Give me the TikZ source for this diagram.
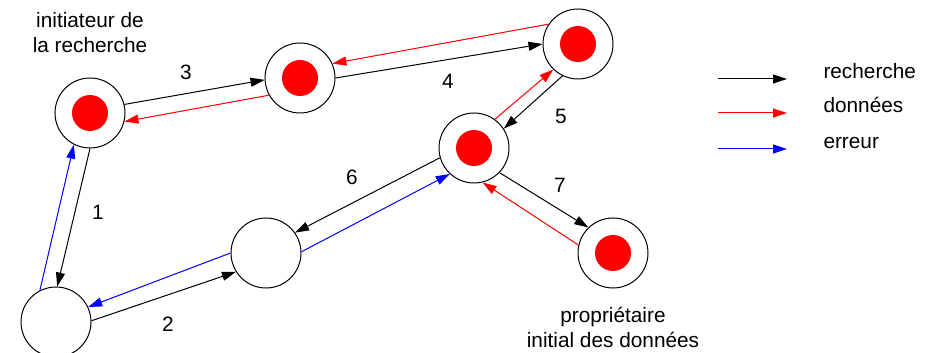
\documentclass[tikz,border=0pt]{standalone}
\usepackage{fontspec}
\setmainfont{Liberation Sans}
\usetikzlibrary{positioning,arrows.meta}

\begin{document}
\begin{tikzpicture}[x=0.5pt, y=-0.5pt, line width=0.5pt, >={Triangle[length=7pt,width=4.5pt]},
        font=\fontsize{10.4}{12.4}\selectfont,
        peer/.style={draw, circle, minimum size=35pt, inner sep=0pt},
        holder/.style={peer, path picture={\fill[red] (path picture bounding box.center) circle (9pt);}}]
        \useasboundingbox (0,0) rectangle (933,353);

        \node[holder] (init) at (90,113) {};
        \node[holder] (nodeb) at (300,78) {};
        \node[holder] (nodec) at (578,44) {};
        \node[holder] (noded) at (474,148) {};
        \node[holder] (owner) at (613,253) {};
        \node[peer] (nodef) at (266,253) {};
        \node[peer] (nodeg) at (56,322) {};

        \node (initlabel) [above=9pt of init, align=center] {initiateur de\\la recherche};
        \node (ownerlabel) [below=6pt of owner, align=center] {propriétaire\\initial des données};

        \draw[->] (init.-90) -- (nodeg.88);
        \draw[->, blue] (nodeg.117) -- (init.-117);
        \draw[->] (nodeg.2) -- (nodef.-148);
        \draw[->, blue] (nodef.180) -- (nodeg.25);
        \draw[->] (init.14) -- (nodeb.183);
        \draw[->, red] (nodeb.-151) -- (init.-14);
        \draw[->] (nodeb.0) -- (nodec.180);
        \draw[->, red] (nodec.146) -- (nodeb.24);
        \draw[->] (nodec.-116) -- (noded.33);
        \draw[->, red] (noded.54) -- (nodec.-134);
        \draw[->] (noded.-164) -- (nodef.35);
        \draw[->, blue] (nodef.2) -- (noded.-133);
        \draw[->] (noded.-44) -- (owner.134);
        \draw[->, red] (owner.167) -- (noded.-76);

        \node (step1) at (98,212) {1};
        \node (step2) at (168,324) {2};
        \node (step3) at (186,72) {3};
        \node (step4) at (448,81) {4};
        \node (step5) at (561,116) {5};
        \node (step6) at (352,177) {6};
        \node (step7) at (560,185) {7};

        % legende
        \coordinate (recha) at (718,79);
        \coordinate (rechb) at (787,79);
        \coordinate (donna) at (718,113);
        \coordinate (donnb) at (787,113);
        \coordinate (erra) at (718,149);
        \coordinate (errb) at (787,149);
        \draw[->] (recha) -- (rechb);
        \draw[->, red] (donna) -- (donnb);
        \draw[->, blue] (erra) -- (errb);
        \node (rechlabel) [anchor=base west, inner sep=0pt] at (823,79) {recherche};
        \node (donnlabel) [anchor=base west, inner sep=0pt] at (823,113) {données};
        \node (errlabel) [anchor=base west, inner sep=0pt] at (823,149) {erreur};
    \end{tikzpicture}
\end{document}
